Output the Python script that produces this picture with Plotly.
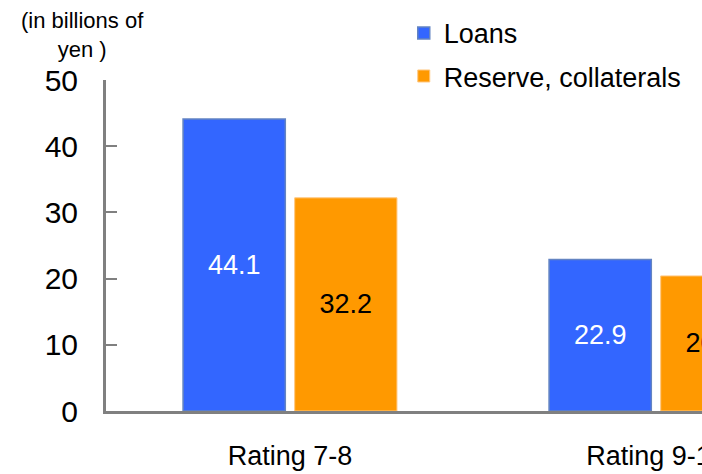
import plotly.graph_objects as go

categories = ["Rating 7-8", "Rating 9-10"]
loans = [44.1, 22.9]
reserve = [32.2, 20.4]
y_ticks = [0, 10, 20, 30, 40, 50]

FONT = "Liberation Sans, Arial, sans-serif"

fig = go.Figure()
fig.add_trace(go.Bar(
    name="Loans", x=categories, y=loans, legendgroup="loans",
    text=[f"{v:.1f}" for v in loans], textposition="inside",
    insidetextanchor="middle", textangle=0,
    textfont=dict(color="white", size=27, family=FONT),
    marker=dict(color="#3366FF", line=dict(color="#6384C2", width=1.5)),
))
fig.add_trace(go.Bar(
    name="Reserve, collaterals", x=categories, y=reserve, legendgroup="reserve",
    text=[f"{v:.1f}" for v in reserve], textposition="inside",
    insidetextanchor="middle", textangle=0,
    textfont=dict(color="black", size=27, family=FONT),
    marker=dict(color="#FF9900", line=dict(color="#FFC77F", width=1)),
))

fig.update_layout(
    width=702, height=474,
    margin=dict(l=106, r=0, t=80, b=63, autoexpand=False),
    paper_bgcolor="white", plot_bgcolor="white",
    font=dict(family=FONT, color="black"),
    barmode="group", bargap=0.39, bargroupgap=0.084,
    showlegend=True,
    legend=dict(x=0.4996, y=1.215, xref="paper", yref="paper",
                xanchor="left", yanchor="top", tracegroupgap=5,
                font=dict(size=27, family=FONT), bgcolor="rgba(0,0,0,0)"),
    xaxis=dict(range=[-0.50273, 1.12568], showline=True, linecolor="#808080",
               linewidth=3, ticks="", showgrid=False, zeroline=False, automargin=False,
               tickfont=dict(size=27, family=FONT), ticklabelstandoff=19),
    yaxis=dict(range=[0, 50], tickvals=y_ticks, showline=True, linecolor="#808080",
               linewidth=3, ticks="inside", ticklen=11, tickwidth=2, tickcolor="#808080",
               showgrid=False, zeroline=False, automargin=False,
               tickfont=dict(size=30, family=FONT), ticklabelstandoff=19),
    annotations=[dict(text="(in billions of<br>yen )", xref="paper", yref="paper",
                      x=-0.04, y=1.135, xanchor="center", yanchor="middle",
                      showarrow=False, align="center",
                      font=dict(size=22, family=FONT))],
)

fig.write_html(
    "out.html",
    config={"displayModeBar": False},
    post_script="document.documentElement.style.margin='0';"
                "document.body.style.margin='0';"
                "document.documentElement.style.overflow='hidden';"
                "document.body.style.overflow='hidden';",
)
